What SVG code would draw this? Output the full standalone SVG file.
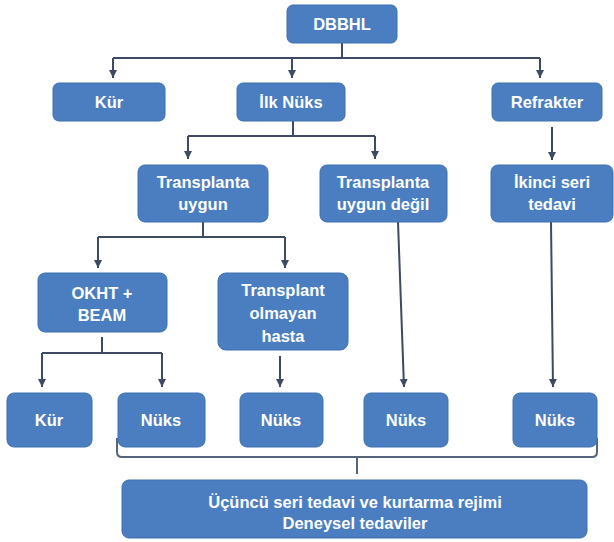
<svg xmlns="http://www.w3.org/2000/svg" width="614" height="542" viewBox="0 0 614 542">
<defs>
<marker id="ah" markerWidth="10" markerHeight="10" refX="8" refY="5" orient="auto" markerUnits="userSpaceOnUse">
<path d="M0,1 L8,5 L0,9 Z" fill="#3e4a63"/>
</marker>
<style>
.box{fill:#4a7ec0;stroke:#3f70b0;stroke-width:1}
.t{font-family:"Liberation Sans",Arial,sans-serif;font-weight:bold;font-size:16.5px;fill:#ffffff;text-anchor:middle}
.c{fill:none;stroke:#3e4a63;stroke-width:2}
.a{fill:none;stroke:#3e4a63;stroke-width:2;marker-end:url(#ah)}
.br{fill:none;stroke:#56647c;stroke-width:2}
</style>
</defs>
<rect width="614" height="542" fill="#ffffff"/>
<g id="connectors">
<path class="c" d="M342 43 V58 M113 58 H540"/>
<path class="a" d="M113 58 V78"/>
<path class="a" d="M292 58 V78"/>
<path class="a" d="M540 58 V78"/>
<path class="c" d="M293 120 V136 M188 136 H375"/>
<path class="a" d="M188 136 V159"/>
<path class="a" d="M375 136 V159"/>
<path class="a" d="M552 127 V160"/>
<path class="c" d="M203 222 V237 M98 237 H285"/>
<path class="a" d="M98 237 V268"/>
<path class="a" d="M285 237 V268"/>
<path class="a" d="M398 222 L404 387"/>
<path class="a" d="M551 222 L553 387"/>
<path class="c" d="M102 337 V353 M42 353 H162"/>
<path class="a" d="M42 353 V387"/>
<path class="a" d="M162 353 V387"/>
<path class="a" d="M280 356 V387"/>
<path class="br" d="M117 438 V452 Q117 457 122 457 H592 Q597 457 597 452 V438 M357 457 V474"/>
</g>
<g id="n-dbbhl"><rect class="box" x="287" y="5" width="110" height="38" rx="6"/><text class="t" x="342" y="30">DBBHL</text></g>
<g id="n-kur1"><rect class="box" x="53" y="83" width="112" height="38" rx="6"/><text class="t" x="109" y="108">Kür</text></g>
<g id="n-ilknuks"><rect class="box" x="237" y="83" width="108" height="38" rx="6"/><text class="t" x="291" y="108">İlk Nüks</text></g>
<g id="n-refrakter"><rect class="box" x="492" y="83" width="110" height="38" rx="6"/><text class="t" x="547" y="108">Refrakter</text></g>
<g id="n-tuygun"><rect class="box" x="138" y="165" width="130" height="57" rx="7"/><text class="t" x="203" y="188">Transplanta</text><text class="t" x="203" y="210">uygun</text></g>
<g id="n-tdegil"><rect class="box" x="320" y="165" width="127" height="57" rx="7"/><text class="t" x="383" y="188">Transplanta</text><text class="t" x="383" y="210">uygun değil</text></g>
<g id="n-ikinci"><rect class="box" x="491" y="165" width="122" height="57" rx="7"/><text class="t" x="552" y="188">İkinci seri</text><text class="t" x="552" y="210">tedavi</text></g>
<g id="n-okht"><rect class="box" x="38" y="273" width="129" height="59" rx="7"/><text class="t" x="102" y="299">OKHT +</text><text class="t" x="102" y="321">BEAM</text></g>
<g id="n-tolmayan"><rect class="box" x="218" y="273" width="130" height="77" rx="8"/><text class="t" x="283" y="296">Transplant</text><text class="t" x="283" y="319">olmayan</text><text class="t" x="283" y="342">hasta</text></g>
<g id="n-kur2"><rect class="box" x="7" y="393" width="85" height="54" rx="7"/><text class="t" x="49" y="426">Kür</text></g>
<g id="n-nuks1"><rect class="box" x="118" y="393" width="87" height="54" rx="7"/><text class="t" x="161" y="426">Nüks</text></g>
<g id="n-nuks2"><rect class="box" x="240" y="393" width="83" height="54" rx="7"/><text class="t" x="281" y="426">Nüks</text></g>
<g id="n-nuks3"><rect class="box" x="364" y="393" width="84" height="54" rx="7"/><text class="t" x="406" y="426">Nüks</text></g>
<g id="n-nuks4"><rect class="box" x="513" y="393" width="84" height="54" rx="7"/><text class="t" x="555" y="426">Nüks</text></g>
<g id="n-ucuncu"><rect class="box" x="122" y="480" width="465" height="58" rx="7"/><text class="t" x="355" y="508">Üçüncü seri tedavi ve kurtarma rejimi</text><text class="t" x="355" y="529">Deneysel tedaviler</text></g>
</svg>
